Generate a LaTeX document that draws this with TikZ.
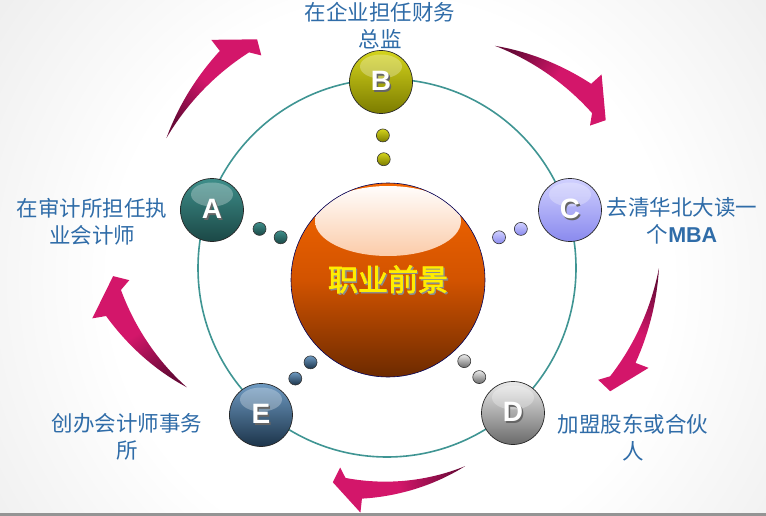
\documentclass[tikz,border=0pt]{standalone}
\usepackage{fontspec}
\newfontfamily\cjk{Noto Sans CJK SC}
\newfontfamily\cjkheavy[FakeBold=2.5]{Noto Sans CJK SC}
\newfontfamily\latinfont{Liberation Sans}
\usetikzlibrary{calc}

\definecolor{labelblue}{HTML}{2F6CA8}
\definecolor{ringteal}{HTML}{3F9593}
\definecolor{swoophead}{HTML}{D3166A}
\definecolor{swooptail}{HTML}{6A0A38}
\definecolor{coretop}{HTML}{F46600}
\definecolor{coremid}{HTML}{D25300}
\definecolor{corebot}{HTML}{6C2A00}
\definecolor{olivetop}{HTML}{D4D41C}
\definecolor{olivebot}{HTML}{7C7C00}
\definecolor{tealtop}{HTML}{3E8E8A}
\definecolor{tealbot}{HTML}{1B4846}
\definecolor{lilactop}{HTML}{D0D0FF}
\definecolor{lilacbot}{HTML}{8A8AEE}
\definecolor{silvertop}{HTML}{EAEAEA}
\definecolor{silverbot}{HTML}{6A6A6A}
\definecolor{steeltop}{HTML}{6E9AC2}
\definecolor{steelbot}{HTML}{1C344A}

\pgfdeclareradialshading{bgglow}{\pgfpoint{0bp}{0bp}}{color(0bp)=(white); color(14bp)=(white); color(28bp)=(black!9); color(39bp)=(black!25); color(48bp)=(black!37); color(50bp)=(black!38)}

\newcommand\shadowed[2]{\makebox[0pt][l]{\hspace{1.4pt}\raisebox{-1.4pt}{\textcolor{#1}{#2}}}#2}
% tapered curved arrow: tail angle, tail radius, tip angle, tip radius, shading angle
\newcommand\swoop[5]{%
\shade[top color=swoophead, bottom color=swooptail, middle color=swoophead, shading angle=#5]
  plot[domain=0:1, samples=30, variable=\s] ({(#1)+\s*((#3)-3-(#1))}:{(#2)+\s*((#4)-7-(#2))})
  -- ({(#3)-1}:{(#4)-16}) -- (#3:#4) -- ({(#3)-8}:{(#4)+25}) -- ({(#3)-8}:{(#4)+11})
  -- plot[domain=1:0, samples=30, variable=\s] ({(#1)+\s*((#3)-8-(#1))}:{(#2)+\s*((#4)+11-(#2))}) -- cycle;}

\tikzset{
  ball/.style 2 args={circle, draw=black!85, line width=0.7pt, minimum size=63pt, inner sep=0pt,
    top color=#1, bottom color=#2, text=white, font=\latinfont\bfseries\fontsize{28}{28}\selectfont,
    path picture={\fill[white, opacity=0.28] ([yshift=-16pt]path picture bounding box.north) ellipse [x radius=21pt, y radius=12pt];}},
  dot/.style 2 args={circle, draw=black!80, line width=0.6pt, minimum size=13pt, inner sep=0pt, top color=#1, bottom color=#2},
  core/.style={circle, draw=blue!35!black, line width=0.6pt, minimum size=194pt, inner sep=0pt,
    top color=coretop, bottom color=corebot, middle color=coremid,
    path picture={\shade[top color=white, bottom color=coretop!90!white] ([yshift=-38pt]path picture bounding box.north) ellipse [x radius=73pt, y radius=35pt];}},
  caption/.style={align=center, text=labelblue, font=\cjk\fontsize{21.5}{27}\selectfont}
}

\begin{document}
\begin{tikzpicture}[x=1pt, y=-1pt]
\useasboundingbox (0,0) rectangle (766,516);
\begin{scope}
\clip (0,0) rectangle (766,516);
\shade[shading=bgglow] (390,280) circle[radius=500];
\end{scope}
\fill[black!42] (0,513) rectangle (766,516);

\begin{scope}[shift={(387,268)}]
\swoop{210.5}{256}{240.4}{263}{-42.6} \swoop{-64.1}{247}{-34.05}{264}{-123.7}
\swoop{0}{272}{28.9}{255}{158.3} \swoop{68.5}{213}{104.2}{221}{96.9}
\swoop{149.2}{233}{178.3}{274}{33.7}
\end{scope}

\draw[ringteal, line width=1.6pt] (387,268) circle[radius=189];

\node[core] (core) at (388,280) {\cjkheavy\fontsize{30}{30}\selectfont\color{yellow!95!orange}\shadowed{black!45}{职业前景}};

\node[ball={olivetop}{olivebot}] (b) at (381,82) {\shadowed{black!60}{B}};
\node[ball={tealtop}{tealbot}] (a) at (212,210) {\shadowed{black!60}{A}};
\node[ball={lilactop}{lilacbot}] (c) at (570,210) {\shadowed{black!60}{C}};
\node[ball={silvertop}{silverbot}] (d) at (513,413) {\shadowed{black!60}{D}};
\node[ball={steeltop}{steelbot}] (e) at (261,415) {\shadowed{black!60}{E}};

\foreach \n/\t/\u in {a/tealtop/tealbot, b/olivetop/olivebot, c/lilactop/lilacbot, d/silvertop/silverbot, e/steeltop/steelbot} {
  \node[dot={\t}{\u}] (\n1) at ($(core)!0.61!(\n)$) {};
  \node[dot={\t}{\u}] (\n2) at ($(core)!0.73!(\n)$) {};
}

\node[caption] (capb) at (380,26) {在企业担任财务\\总监};
\node[caption] (capa) at (92,222) {在审计所担任执\\业会计师};
\node[caption] (capc) at (682,221) {去清华北大读一\\个{\latinfont\bfseries MBA}};
\node[caption] (capd) at (633,438) {加盟股东或合伙\\人};
\node[caption] (cape) at (127,437) {创办会计师事务\\所};
\end{tikzpicture}
\end{document}
